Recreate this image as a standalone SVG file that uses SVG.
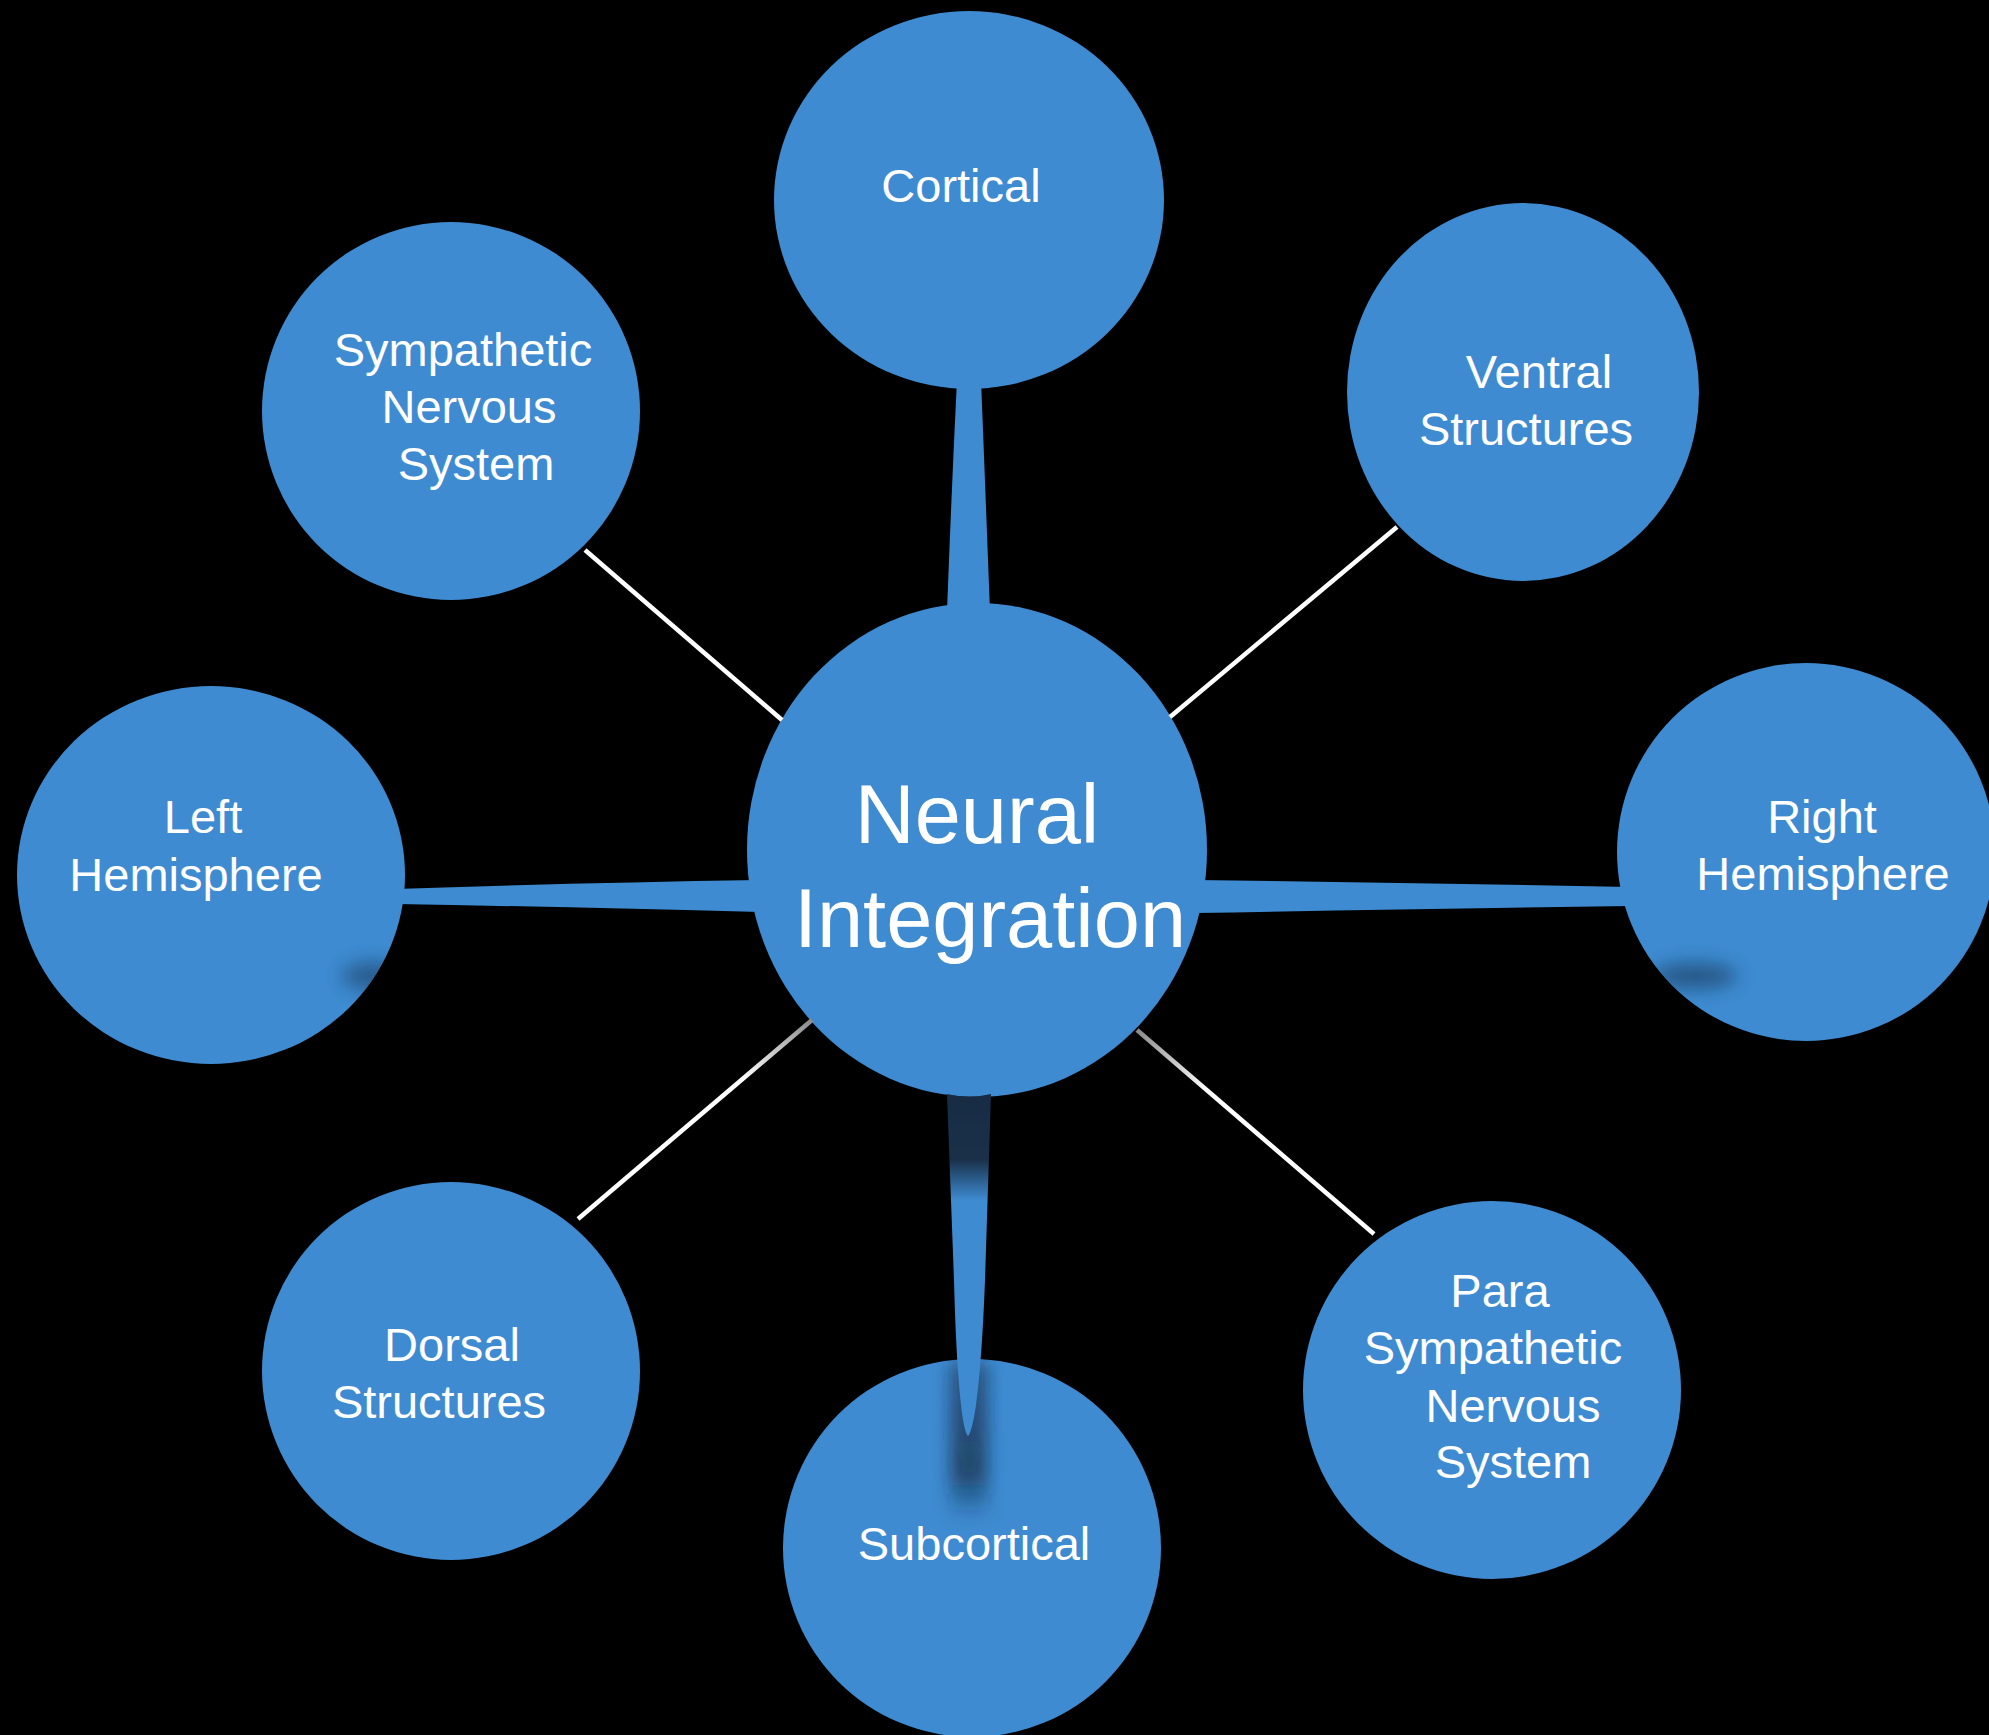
<svg xmlns="http://www.w3.org/2000/svg" width="1989" height="1735" viewBox="0 0 1989 1735">
  <style>
    .node { fill: #3e8bd1; }
    .lbl { fill: #ffffff; font-family: "Liberation Sans", Arial, sans-serif; font-size: 47px; text-anchor: middle; }
    .big { font-size: 83px; }
    .wire { stroke: #ffffff; stroke-width: 4.5; fill: none; }
    .stem { fill: #3e8bd1; }
  </style>
  <defs>
    <linearGradient id="spikeGrad" gradientUnits="userSpaceOnUse" x1="0" y1="1095" x2="0" y2="1435">
      <stop offset="0" stop-color="#172c44"/>
      <stop offset="0.19" stop-color="#1a3049"/>
      <stop offset="0.25" stop-color="#2c5f8f"/>
      <stop offset="0.31" stop-color="#3e8bd1"/>
      <stop offset="1" stop-color="#3e8bd1"/>
    </linearGradient>
    <linearGradient id="dorsalGrad" gradientUnits="userSpaceOnUse" x1="812" y1="1020" x2="578" y2="1219">
      <stop offset="0" stop-color="#8a8a8a"/>
      <stop offset="0.3" stop-color="#ffffff"/>
      <stop offset="1" stop-color="#ffffff"/>
    </linearGradient>
    <linearGradient id="paraGrad" gradientUnits="userSpaceOnUse" x1="1137" y1="1030" x2="1374" y2="1234">
      <stop offset="0" stop-color="#8a8a8a"/>
      <stop offset="0.3" stop-color="#ffffff"/>
      <stop offset="1" stop-color="#ffffff"/>
    </linearGradient>
    <linearGradient id="shadowFade" gradientUnits="userSpaceOnUse" x1="0" y1="1360" x2="0" y2="1520">
      <stop offset="0" stop-color="#0e2238" stop-opacity="0.5"/>
      <stop offset="0.7" stop-color="#0e2238" stop-opacity="0.65"/>
      <stop offset="1" stop-color="#0e2238" stop-opacity="0"/>
    </linearGradient>
    <filter id="blur6" x="-80%" y="-150%" width="260%" height="400%">
      <feGaussianBlur stdDeviation="9"/>
    </filter>
    <filter id="blur8" x="-50%" y="-50%" width="200%" height="200%">
      <feGaussianBlur stdDeviation="8"/>
    </filter>
    <clipPath id="clipSub"><circle cx="972" cy="1548" r="189"/></clipPath>
    <clipPath id="clipLeft"><ellipse cx="211" cy="875" rx="194" ry="189"/></clipPath>
    <clipPath id="clipRight"><circle cx="1806" cy="852" r="189"/></clipPath>
  </defs>

  <rect x="0" y="0" width="1989" height="1735" fill="#000000"/>

  <g id="nodes">
    <g id="node-center">
      <ellipse class="node" cx="977" cy="850" rx="230" ry="247"/>
      <text class="lbl big" x="977" y="843">Neural</text>
      <text class="lbl big" x="990" y="947">Integration</text>
    </g>
    <g id="node-cortical">
      <ellipse class="node" cx="969" cy="200" rx="195" ry="189"/>
      <text class="lbl" x="961" y="202">Cortical</text>
    </g>
    <g id="node-ventral">
      <ellipse class="node" cx="1523" cy="392" rx="176" ry="189"/>
      <text class="lbl" x="1539" y="388">Ventral</text>
      <text class="lbl" x="1526" y="445">Structures</text>
    </g>
    <g id="node-right">
      <circle class="node" cx="1806" cy="852" r="189"/>
      <ellipse cx="1695" cy="976" rx="42" ry="13" fill="#10263f" opacity="0.5" filter="url(#blur6)" clip-path="url(#clipRight)"/>
      <text class="lbl" x="1822" y="833">Right</text>
      <text class="lbl" x="1823" y="890">Hemisphere</text>
    </g>
    <g id="node-para">
      <circle class="node" cx="1492" cy="1390" r="189"/>
      <text class="lbl" x="1500" y="1307">Para</text>
      <text class="lbl" x="1493" y="1364">Sympathetic</text>
      <text class="lbl" x="1513" y="1422">Nervous</text>
      <text class="lbl" x="1513" y="1478">System</text>
    </g>
    <g id="node-subcortical">
      <circle class="node" cx="972" cy="1548" r="189"/>
      <text class="lbl" x="974" y="1560">Subcortical</text>
    </g>
    <g id="node-dorsal">
      <circle class="node" cx="451" cy="1371" r="189"/>
      <text class="lbl" x="452" y="1361">Dorsal</text>
      <text class="lbl" x="439" y="1418">Structures</text>
    </g>
    <g id="node-left">
      <ellipse class="node" cx="211" cy="875" rx="194" ry="189"/>
      <ellipse cx="372" cy="976" rx="30" ry="14" fill="#10263f" opacity="0.45" filter="url(#blur6)" clip-path="url(#clipLeft)"/>
      <text class="lbl" x="203" y="833">Left</text>
      <text class="lbl" x="196" y="891">Hemisphere</text>
    </g>
    <g id="node-sympathetic">
      <circle class="node" cx="451" cy="411" r="189"/>
      <text class="lbl" x="463" y="366">Sympathetic</text>
      <text class="lbl" x="469" y="423">Nervous</text>
      <text class="lbl" x="476" y="480">System</text>
    </g>
  </g>

  <g id="connectors">
    <path id="c-cortical" class="stem" d="M957,380 L981,380 Q985,480 990,612 L947,612 Q952,480 957,380 Z"/>
    <path id="c-left" class="stem" d="M395,889 Q570,883 760,880 L760,912 Q570,907 395,904 Z"/>
    <path id="c-right" class="stem" d="M1195,880 Q1420,883 1630,887 L1630,906 Q1420,909 1195,913 Z"/>
    <rect x="950" y="1362" width="38" height="155" fill="url(#shadowFade)" filter="url(#blur8)" clip-path="url(#clipSub)"/>
    <path id="c-subcortical" fill="url(#spikeGrad)" d="M947,1094 Q969,1099 991,1094 L985,1280 Q982,1360 976,1405 Q972,1432 968,1436 Q964,1432 961,1405 Q956,1360 954,1280 Z"/>
    <line id="c-sympathetic" class="wire" x1="585" y1="550" x2="782" y2="720"/>
    <line id="c-ventral" class="wire" x1="1170" y1="717" x2="1397" y2="527"/>
    <line id="c-dorsal" class="wire" style="stroke:url(#dorsalGrad)" x1="812" y1="1020" x2="578" y2="1219"/>
    <line id="c-para" class="wire" style="stroke:url(#paraGrad)" x1="1137" y1="1030" x2="1374" y2="1234"/>
  </g>
</svg>
